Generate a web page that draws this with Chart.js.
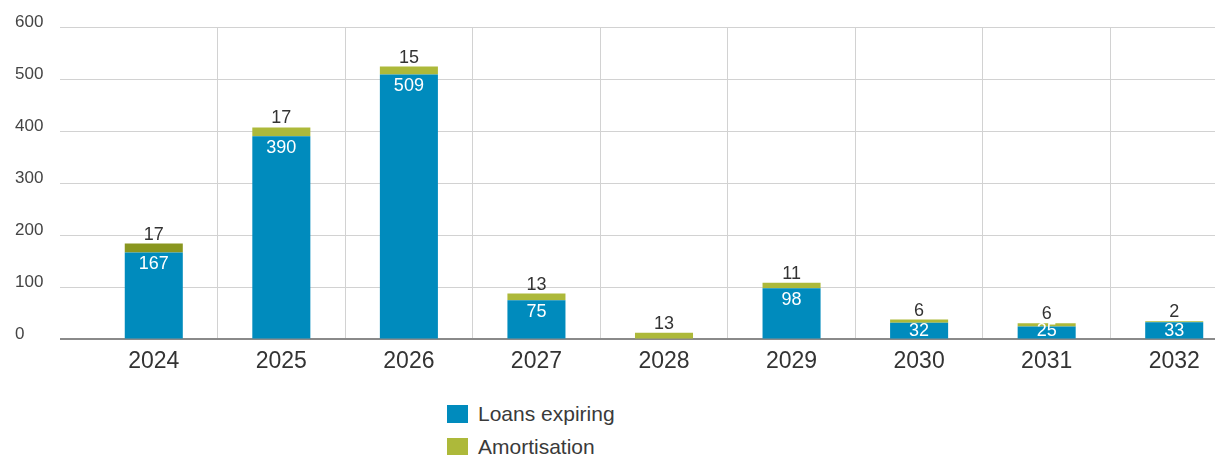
<!DOCTYPE html>
<html>
<head>
<meta charset="utf-8">
<script src="https://cdn.jsdelivr.net/npm/chart.js@4/dist/chart.umd.min.js"></script>
<style>
  html, body { margin: 0; padding: 0; background: #fff; overflow: hidden; width: 1215px; height: 455px; }
  #wrap { position: absolute; left: 0; top: 0; width: 1240px; height: 393px; }
  #legend { position: absolute; left: 447px; top: 397px; font-family: "Liberation Sans", Arial, sans-serif; font-size: 21px; color: #3a3a3a; }
  #legend div { display: flex; align-items: center; height: 33px; }
  #legend span.box { display: inline-block; width: 21px; height: 18px; margin-right: 10px; }
</style>
</head>
<body>
<div id="wrap"><canvas id="chart"></canvas></div>
<div id="legend"></div>
<script>
const years = ['2024', '2025', '2026', '2027', '2028', '2029', '2030', '2031', '2032'];
const loansExpiring = [167, 390, 509, 75, 0, 98, 32, 25, 33];
const amortisation = [17, 17, 15, 13, 13, 11, 6, 6, 2];
const yTicks = [0, 100, 200, 300, 400, 500, 600];

const BLUE = '#008bbd';
const GREEN = '#adb93a';
const GREEN_DARK = '#89961f';
const FONT = '"Liberation Sans", Arial, sans-serif';

// value labels: white inside the top of the blue bars, dark above the stack
const barLabels = {
    id: 'barLabels',
    afterDatasetsDraw: function (chart) {
        const ctx = chart.ctx;
        ctx.save();
        ctx.font = '18px ' + FONT;
        ctx.textAlign = 'center';
        ctx.textBaseline = 'alphabetic';
        chart.data.datasets.forEach(function (ds, di) {
            const meta = chart.getDatasetMeta(di);
            meta.data.forEach(function (bar, i) {
                const v = ds.data[i];
                if (!v) return;
                if (di === 0) {
                    ctx.fillStyle = '#ffffff';
                    ctx.fillText(String(v), bar.x, Math.min(bar.y + 17, bar.base - 2));
                } else {
                    ctx.fillStyle = '#333333';
                    ctx.fillText(String(v), bar.x, bar.y - 4);
                }
            });
        });
        ctx.restore();
    }
};

const chart = new Chart(document.getElementById('chart').getContext('2d'), {
    type: 'bar',
    data: {
        labels: years,
        datasets: [{
            label: 'Loans expiring',
            data: loansExpiring,
            backgroundColor: BLUE,
            legendColor: BLUE
        }, {
            label: 'Amortisation',
            data: amortisation,
            backgroundColor: function (c) { return c.dataIndex === 0 ? GREEN_DARK : GREEN; },
            legendColor: GREEN
        }]
    },
    options: {
        responsive: true,
        maintainAspectRatio: false,
        animation: false,
        categoryPercentage: 1,
        barPercentage: 0.455,
        layout: { padding: { top: 27, left: 15, right: 2, bottom: 10 } },
        plugins: {
            legend: { display: false },
            tooltip: { enabled: false }
        },
        scales: {
            x: {
                stacked: true,
                border: { display: false },
                grid: {
                    drawTicks: false,
                    color: function (c) { return c.index === 0 ? 'rgba(0,0,0,0)' : '#d2d2d2'; },
                    lineWidth: 1
                },
                ticks: { padding: 8, color: '#333', font: { family: FONT, size: 23 } }
            },
            y: {
                stacked: true,
                min: 0,
                max: 600,
                afterBuildTicks: function (scale) { scale.ticks = yTicks.map(function (v) { return { value: v }; }); },
                afterFit: function (scale) { scale.width = 75; },
                border: { display: false },
                grid: {
                    tickLength: 30,
                    color: function (c) { return c.tick && c.tick.value === 0 ? '#8a8a8a' : '#d2d2d2'; },
                    lineWidth: function (c) { return c.tick && c.tick.value === 0 ? 2 : 1; }
                },
                ticks: {
                    crossAlign: 'far',
                    padding: 15,
                    labelOffset: -5,
                    color: '#444',
                    font: { family: FONT, size: 17 }
                }
            }
        }
    },
    plugins: [barLabels]
});

const legendEl = document.getElementById('legend');
chart.data.datasets.forEach(function (ds) {
    const row = document.createElement('div');
    const box = document.createElement('span');
    box.className = 'box';
    box.style.background = ds.legendColor;
    row.appendChild(box);
    row.appendChild(document.createTextNode(ds.label));
    legendEl.appendChild(row);
});
</script>
</body>
</html>
